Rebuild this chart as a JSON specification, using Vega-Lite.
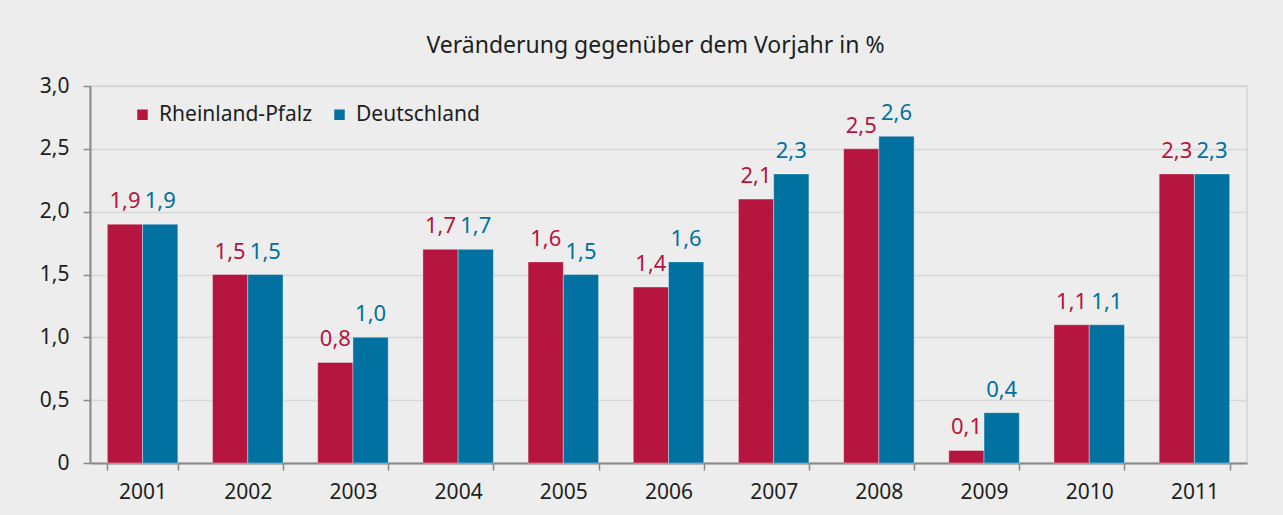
{
  "$schema": "https://vega.github.io/schema/vega-lite/v6.json",
  "width": 1157,
  "height": 377,
  "autosize": "none",
  "padding": {"left": 90, "top": 86, "right": 36, "bottom": 52},
  "background": "#ecedec",
  "config": {
    "font": "Noto Sans",
    "locale": {"number": {"decimal": ",", "thousands": ".", "grouping": [3], "currency": ["", " €"]}},
    "view": {"stroke": "#d4d4d4", "strokeWidth": 1.5}
  },
  "title": {
    "text": "Veränderung gegenüber dem Vorjahr in %",
    "fontSize": 23,
    "fontWeight": "normal",
    "color": "#1e1e1e",
    "offset": 17,
    "dx": -13
  },
  "data": {
    "values": [
      {"year": "2001", "region": "Rheinland-Pfalz", "value": 1.9},
      {"year": "2002", "region": "Rheinland-Pfalz", "value": 1.5},
      {"year": "2003", "region": "Rheinland-Pfalz", "value": 0.8},
      {"year": "2004", "region": "Rheinland-Pfalz", "value": 1.7},
      {"year": "2005", "region": "Rheinland-Pfalz", "value": 1.6},
      {"year": "2006", "region": "Rheinland-Pfalz", "value": 1.4},
      {"year": "2007", "region": "Rheinland-Pfalz", "value": 2.1},
      {"year": "2008", "region": "Rheinland-Pfalz", "value": 2.5},
      {"year": "2009", "region": "Rheinland-Pfalz", "value": 0.1},
      {"year": "2010", "region": "Rheinland-Pfalz", "value": 1.1},
      {"year": "2011", "region": "Rheinland-Pfalz", "value": 2.3},
      {"year": "2001", "region": "Deutschland", "value": 1.9},
      {"year": "2002", "region": "Deutschland", "value": 1.5},
      {"year": "2003", "region": "Deutschland", "value": 1.0},
      {"year": "2004", "region": "Deutschland", "value": 1.7},
      {"year": "2005", "region": "Deutschland", "value": 1.5},
      {"year": "2006", "region": "Deutschland", "value": 1.6},
      {"year": "2007", "region": "Deutschland", "value": 2.3},
      {"year": "2008", "region": "Deutschland", "value": 2.6},
      {"year": "2009", "region": "Deutschland", "value": 0.4},
      {"year": "2010", "region": "Deutschland", "value": 1.1},
      {"year": "2011", "region": "Deutschland", "value": 2.3}
    ]
  },
  "encoding": {
    "x": {
      "field": "year",
      "type": "ordinal",
      "scale": {"paddingInner": 0.33, "paddingOuter": 0.165},
      "axis": {
        "title": null,
        "labelAngle": 0,
        "labelFontSize": 21,
        "labelColor": "#1e1e1e",
        "labelPadding": 11,
        "tickBand": "extent",
        "tickSize": 7,
        "tickColor": "#8a8a8a",
        "tickWidth": 1.5,
        "domainColor": "#8a8a8a",
        "domainWidth": 2
      }
    },
    "xOffset": {"field": "region", "type": "nominal", "sort": ["Rheinland-Pfalz", "Deutschland"]},
    "y": {
      "field": "value",
      "type": "quantitative",
      "scale": {"domain": [0, 3], "nice": false},
      "axis": {
        "title": null,
        "values": [0, 0.5, 1, 1.5, 2, 2.5, 3],
        "format": ".1f",
        "labelExpr": "datum.value === 0 ? '0' : datum.label",
        "labelFontSize": 21,
        "labelColor": "#1e1e1e",
        "labelPadding": 14,
        "tickSize": 7,
        "tickColor": "#8a8a8a",
        "tickWidth": 1.5,
        "domainColor": "#8a8a8a",
        "domainWidth": 2,
        "grid": true,
        "gridColor": "#d8d8d8",
        "gridWidth": 1.5
      }
    },
    "color": {
      "field": "region",
      "type": "nominal",
      "sort": ["Rheinland-Pfalz", "Deutschland"],
      "scale": {"domain": ["Rheinland-Pfalz", "Deutschland"], "range": ["#b5153f", "#0071a1"]},
      "legend": {
        "title": null,
        "orient": "none",
        "legendX": 42,
        "legendY": 18,
        "direction": "horizontal",
        "symbolType": "square",
        "symbolSize": 110,
        "symbolStrokeWidth": 0,
        "symbolOpacity": 1,
        "labelFontSize": 21,
        "labelColor": "#1e1e1e",
        "labelOffset": 6,
        "columnPadding": 16
      }
    }
  },
  "layer": [
    {"mark": {"type": "bar", "stroke": "#ffffff", "strokeOpacity": 0.35, "strokeWidth": 1}},
    {
      "mark": {"type": "text", "baseline": "alphabetic", "dy": -16, "fontSize": 22},
      "encoding": {
        "text": {"field": "value", "type": "quantitative", "format": ".1f"}
      }
    }
  ]
}
